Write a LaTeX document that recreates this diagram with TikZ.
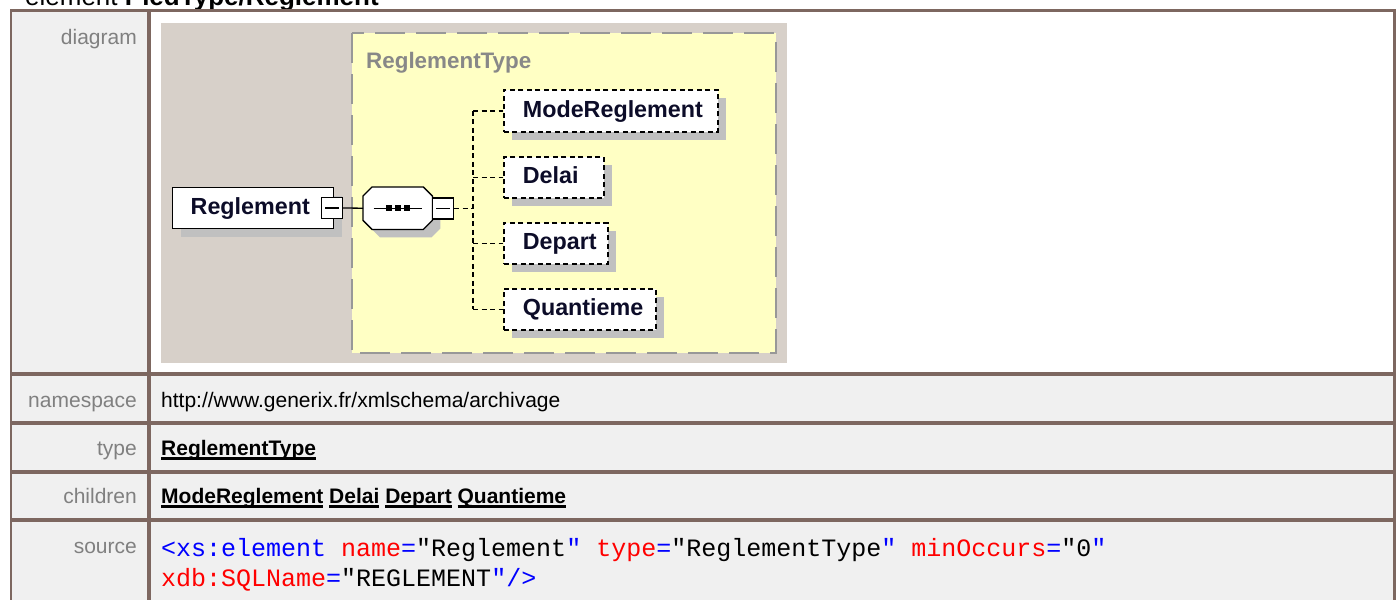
\documentclass[tikz,border=0pt]{standalone}
\usepackage{fontspec}
\setmainfont{Liberation Sans}
\newfontfamily\codefont{Liberation Mono}
\usetikzlibrary{calc,shadows}
\definecolor{tblborder}{RGB}{125,103,96}
\definecolor{cellbg}{RGB}{240,240,240}
\definecolor{diagbg}{RGB}{215,208,201}
\definecolor{typefill}{RGB}{255,255,196}
\definecolor{typeborder}{RGB}{152,152,152}
\definecolor{shadowc}{RGB}{192,192,192}
\definecolor{labelgrey}{RGB}{128,128,128}
\definecolor{typegrey}{RGB}{136,136,136}
\definecolor{elemtext}{RGB}{12,12,40}
\definecolor{xblue}{RGB}{0,0,255}
\definecolor{xred}{RGB}{255,0,0}
\newsavebox\myulbox
\newcommand\ulword[1]{\sbox\myulbox{#1}\rlap{\rule[-4.8pt]{\wd\myulbox}{2.4pt}}\usebox\myulbox}
\newcommand\padtext[2]{\makebox[#1][l]{\hspace{19pt}#2}}
\newcommand\octa[2]{($(seq.north west)+(9+#1,#2)$) -- ($(seq.north east)+(-9+#1,#2)$) -- ($(seq.north east)+(#1,9+#2)$) -- ($(seq.south east)+(#1,-9+#2)$) -- ($(seq.south east)+(-9+#1,#2)$) -- ($(seq.south west)+(9+#1,#2)$) -- ($(seq.south west)+(#1,-9+#2)$) -- ($(seq.north west)+(#1,9+#2)$) -- cycle}
\tikzset{
  labeltext/.style={anchor=base east, inner sep=0, text=labelgrey, font=\fontsize{21}{25}\selectfont},
  celltext/.style={anchor=base west, inner sep=0, text=black, font=\fontsize{21}{25}\selectfont},
  codetext/.style={anchor=base west, inner sep=0, text=black, font={\codefont\fontsize{25}{30}\selectfont}},
  elembase/.style={anchor=north west, inner sep=0, fill=white, text=elemtext,
    text height=17pt, text depth=4pt, font=\bfseries\fontsize{23.3}{28}\selectfont,
    drop shadow={shadow xshift=8pt, shadow yshift=-8pt, opacity=1, fill=shadowc}},
  reqbox/.style={elembase, draw=black, line width=1.4pt, minimum height=41pt},
  optbox/.style={elembase, draw=black, line width=1.8pt, dash pattern=on 5pt off 3.5pt},
  minusbox/.style={draw=black, fill=white, line width=1.3pt, inner sep=0, minimum size=21pt},
  conn/.style={draw=black, line width=1.3pt},
  dconn/.style={draw=black, line width=1.6pt, dash pattern=on 5pt off 3.5pt}
}
\begin{document}
\begin{tikzpicture}[x=1pt,y=-1pt]
\useasboundingbox (0,0) rectangle (1396,600);
% title (cut off at top)
\node[anchor=base west, inner sep=0, font=\fontsize{26}{30}\selectfont] (title) at (25,5) {element \textbf{PiedType/Reglement}};
% table
\fill[tblborder] (10,9) rectangle (1396,600);
\fill[cellbg] (12,12) rectangle (147,372);
\fill[white] (151,12) rectangle (1393,372);
\fill[cellbg] (12,376) rectangle (147,421);
\fill[cellbg] (151,376) rectangle (1393,421);
\fill[cellbg] (12,425) rectangle (147,470);
\fill[cellbg] (151,425) rectangle (1393,470);
\fill[cellbg] (12,474) rectangle (147,518);
\fill[cellbg] (151,474) rectangle (1393,518);
\fill[cellbg] (12,522) rectangle (147,600);
\fill[cellbg] (151,522) rectangle (1393,600);
% labels
\node[labeltext] (ldiag) at (137,44) {diagram};
\node[labeltext] (lns) at (137,407) {namespace};
\node[labeltext] (ltype) at (137,455) {type};
\node[labeltext] (lchild) at (137,503) {children};
\node[labeltext] (lsrc) at (137,553) {source};
% contents
\node[celltext] (ns) at (161,407) {http://www.generix.fr/xmlschema/archivage};
\node[celltext, font=\bfseries\fontsize{21}{25}\selectfont] (typ) at (161,455) {\ulword{ReglementType}};
\node[celltext, font=\bfseries\fontsize{21}{25}\selectfont] (chl) at (161,503) {\ulword{ModeReglement} \ulword{Delai} \ulword{Depart} \ulword{Quantieme}};
\node[codetext] (src1) at (161,556) {{\color{xblue}<xs:element} {\color{xred}name}{\color{xblue}=}"Reglement{\color{xblue}"} {\color{xred}type}{\color{xblue}=}"ReglementType{\color{xblue}"} {\color{xred}minOccurs}{\color{xblue}=}"0{\color{xblue}"}};
\node[codetext] (src2) at (161,586) {{\color{xred}xdb:SQLName}{\color{xblue}=}"REGLEMENT{\color{xblue}"/>}};
% diagram background
\fill[diagbg] (161,23) rectangle (787,363);
\filldraw[fill=typefill, draw=typeborder, line width=2.5pt, dash pattern=on 30pt off 11pt] (352,33) rectangle (776,353);
\node[anchor=base west, inner sep=0, text=typegrey, font=\bfseries\fontsize{22.4}{27}\selectfont] (ctype) at (366,68) {ReglementType};
% main element
\node[reqbox] (reg) at (172,187) {\makebox[161pt][l]{\hspace{18pt}Reglement}};
\node[minusbox] (regm) at (332,208) {};
\draw[line width=1.3pt] ($(regm.center)+(-7,0)$) -- ($(regm.center)+(7,0)$);
% sequence compositor
\node[inner sep=0, minimum width=69pt, minimum height=42pt, anchor=north west] (seq) at (363,187) {};
\fill[shadowc] \octa{8}{8};
\filldraw[fill=white, draw=black, line width=1.3pt] \octa{0}{0};
\draw[line width=1.3pt] ($(seq.center)+(-24,0)$) -- ($(seq.center)+(24,0)$);
\fill[black] ($(seq.center)+(-12,-3)$) rectangle ($(seq.center)+(-6,3)$);
\fill[black] ($(seq.center)+(-3,-3)$) rectangle ($(seq.center)+(3,3)$);
\fill[black] ($(seq.center)+(6,-3)$) rectangle ($(seq.center)+(12,3)$);
\node[minusbox] (seqm) at (443,208.5) {};
\draw[line width=1.3pt] ($(seqm.center)+(-7,0)$) -- ($(seqm.center)+(7,0)$);
\draw[conn] (regm.east) -- (seq.west);
% children
\node[optbox, minimum height=42pt] (mode) at (503,89) {\padtext{214pt}{ModeReglement}};
\node[optbox, minimum height=41pt] (delai) at (503,156) {\padtext{100pt}{Delai}};
\node[optbox, minimum height=41pt] (depart) at (503,222) {\padtext{104pt}{Depart}};
\node[optbox, minimum height=41pt] (quant) at (503,288) {\padtext{152pt}{Quantieme}};
% connectors
\coordinate (fork) at (473,208.5);
\draw[dconn] (seqm.east) -- (fork);
\draw[dconn] (fork |- mode.west) -- (fork |- quant.west);
\draw[dconn] (fork |- mode.west) -- (mode.west);
\draw[dconn] (fork |- delai.west) -- (delai.west);
\draw[dconn] (fork |- depart.west) -- (depart.west);
\draw[dconn] (fork |- quant.west) -- (quant.west);
\end{tikzpicture}
\end{document}
